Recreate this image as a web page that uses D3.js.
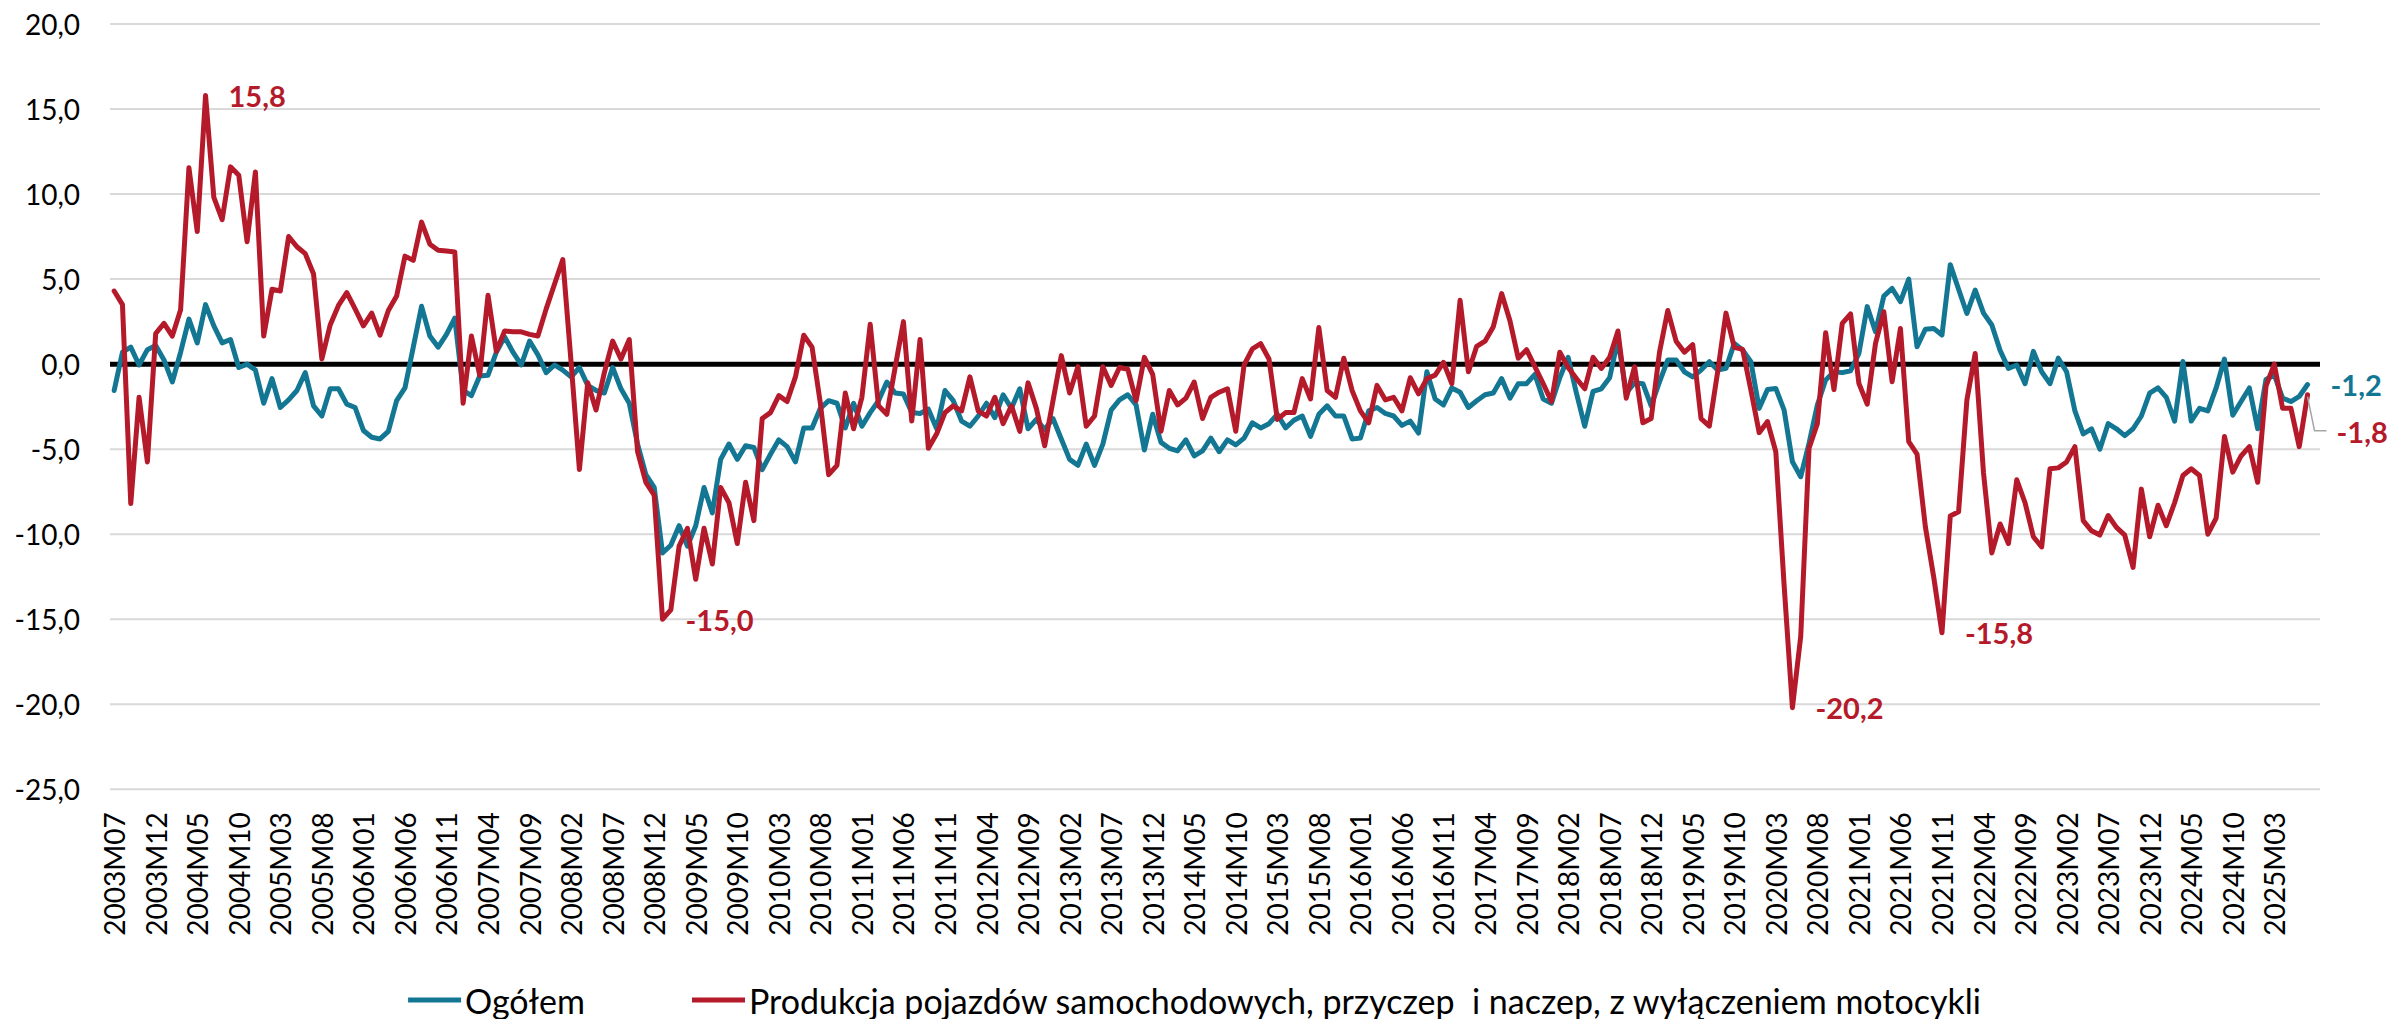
<!DOCTYPE html>
<html>
<head>
<meta charset="utf-8">
<script src="https://cdn.jsdelivr.net/npm/d3@7"></script>
<style>
  html, body { margin: 0; padding: 0; background: #ffffff; }
  svg { display: block; }
  text { font-family: Lato, "Noto Sans", "DejaVu Sans", sans-serif; }
</style>
</head>
<body>
<svg id="chart" width="2389" height="1019"></svg>
<script>
// Year-on-year change, monthly, 2003M07 – 2025M07
const firstYear = 2003;
const firstMonth = 7;

// Ogółem
const ogolem = [
  -1.55, 0.7, 1.0, -0.05, 0.85, 1.1,                                   // 2003
  0.25, -1.05, 0.7, 2.65, 1.25, 3.5, 2.25, 1.25, 1.45, -0.2, 0.0, -0.35, // 2004
  -2.3, -0.85, -2.55, -2.1, -1.55, -0.5, -2.45, -3.05, -1.45, -1.45, -2.35, -2.55, // 2005
  -3.9, -4.3, -4.4, -3.95, -2.15, -1.4, 1.0, 3.4, 1.65, 1.0, 1.75, 2.7, // 2006
  -1.55, -1.85, -0.7, -0.65, 0.7, 1.6, 0.7, -0.05, 1.35, 0.55, -0.5, -0.05, // 2007
  -0.35, -0.75, -0.2, -1.25, -1.55, -1.7, -0.2, -1.45, -2.3, -4.7, -6.5, -7.25, // 2008
  -11.1, -10.65, -9.5, -10.7, -9.5, -7.25, -8.75, -5.6, -4.7, -5.6, -4.8, -4.9, // 2009
  -6.2, -5.3, -4.45, -4.85, -5.75, -3.75, -3.75, -2.6, -2.15, -2.3, -3.75, -2.3, // 2010
  -3.65, -2.85, -2.15, -1.05, -1.7, -1.75, -2.85, -2.9, -2.65, -3.8, -1.55, -2.15, // 2011
  -3.35, -3.65, -3.05, -2.3, -3.15, -1.8, -2.6, -1.45, -3.8, -3.25, -3.85, -3.2, // 2012
  -4.4, -5.6, -5.95, -4.7, -5.95, -4.7, -2.7, -2.1, -1.8, -2.4, -5.05, -2.95, // 2013
  -4.6, -4.95, -5.1, -4.45, -5.4, -5.1, -4.35, -5.15, -4.45, -4.75, -4.35, -3.45, // 2014
  -3.75, -3.5, -2.95, -3.75, -3.3, -3.05, -4.25, -2.95, -2.45, -3.05, -3.05, -4.4, // 2015
  -4.35, -2.75, -2.55, -2.9, -3.05, -3.6, -3.35, -4.05, -0.45, -2.05, -2.4, -1.4, // 2016
  -1.65, -2.55, -2.15, -1.8, -1.7, -0.85, -2.0, -1.15, -1.15, -0.6, -2.05, -2.3, // 2017
  -0.8, 0.4, -1.7, -3.65, -1.6, -1.45, -0.8, 1.45, -1.7, -1.1, -1.15, -2.45, // 2018
  -1.05, 0.25, 0.25, -0.45, -0.75, -0.35, 0.14, -0.35, -0.25, 1.22, 0.83, 0.14, // 2019
  -2.6, -1.49, -1.43, -2.7, -5.74, -6.62, -4.66, -2.4, -0.93, -0.45, -0.5, -0.39, // 2020
  0.63, 3.38, 1.9, 4.0, 4.45, 3.67, 5.0, 1.02, 2.05, 2.1, 1.71, 5.85, // 2021
  4.4, 2.98, 4.35, 3.0, 2.3, 0.8, -0.25, -0.05, -1.15, 0.75, -0.45, -1.15, // 2022
  0.35, -0.45, -2.75, -4.1, -3.8, -5.0, -3.5, -3.8, -4.2, -3.8, -3.05, -1.7, // 2023
  -1.4, -1.95, -3.35, 0.15, -3.35, -2.6, -2.75, -1.4, 0.3, -3.0, -2.2, -1.4, // 2024
  -3.8, -0.9, -0.64, -2.0, -2.2, -1.9, -1.2                             // 2025
];

// Produkcja pojazdów samochodowych, przyczep i naczep, z wyłączeniem motocykli
const pojazdy = [
  4.3, 3.5, -8.2, -1.95, -5.75, 1.8,                                    // 2003
  2.4, 1.65, 3.2, 11.55, 7.8, 15.8, 9.8, 8.5, 11.6, 11.1, 7.2, 11.3,     // 2004
  1.65, 4.4, 4.3, 7.5, 6.9, 6.5, 5.3, 0.3, 2.3, 3.45, 4.2, 3.25,        // 2005
  2.25, 3.0, 1.7, 3.15, 4.0, 6.35, 6.1, 8.35, 7.05, 6.7, 6.65, 6.6,     // 2006
  -2.3, 1.65, -0.65, 4.05, 0.75, 1.95, 1.9, 1.9, 1.75, 1.65, 3.25, 4.7, // 2007
  6.15, 0.1, -6.2, -1.1, -2.7, -0.5, 1.35, 0.3, 1.45, -5.15, -6.95, -7.7, // 2008
  -15.0, -14.45, -10.7, -9.65, -12.65, -9.65, -11.75, -7.25, -8.15, -10.55, -6.95, -9.2, // 2009
  -3.2, -2.85, -1.85, -2.2, -0.75, 1.7, 1.0, -2.3, -6.5, -5.95, -1.7, -3.8, // 2010
  -1.95, 2.35, -2.45, -2.95, -0.2, 2.5, -3.35, 1.45, -4.95, -4.1, -2.85, -2.45, // 2011
  -2.75, -0.75, -2.75, -3.05, -1.95, -3.5, -2.45, -3.95, -1.1, -2.6, -4.8, -2.15, // 2012
  0.5, -1.7, -0.15, -3.65, -3.05, -0.15, -1.25, -0.2, -0.3, -2.15, 0.4, -0.6, // 2013
  -3.95, -1.55, -2.4, -2.0, -1.05, -3.2, -1.95, -1.65, -1.45, -3.95, -0.05, 0.9, // 2014
  1.2, 0.3, -3.25, -2.85, -2.85, -0.85, -2.05, 2.15, -1.55, -1.95, 0.35, -1.55, // 2015
  -2.75, -3.45, -1.25, -2.1, -1.95, -2.75, -0.8, -1.75, -0.85, -0.65, 0.1, -1.15, // 2016
  3.75, -0.45, 1.05, 1.35, 2.2, 4.15, 2.55, 0.35, 0.85, -0.15, -1.15, -2.2, // 2017
  0.7, -0.2, -0.85, -1.45, 0.4, -0.25, 0.4, 1.95, -2.0, -0.15, -3.45, -3.2, // 2018
  0.7, 3.15, 1.35, 0.7, 1.15, -3.2, -3.64, -0.45, 3.0, 0.99, 0.87, -1.52, // 2019
  -4.03, -3.38, -5.15, -13.0, -20.2, -16.0, -4.95, -3.5, 1.85, -1.5, 2.4, 2.95, // 2020
  -1.13, -2.35, 1.22, 3.08, -1.03, 2.1, -4.56, -5.29, -9.56, -12.5, -15.8, -8.93, // 2021
  -8.68, -2.11, 0.63, -6.4, -11.1, -9.4, -10.55, -6.8, -8.15, -10.15, -10.75, -6.15, // 2022
  -6.1, -5.75, -4.85, -9.2, -9.8, -10.05, -8.9, -9.6, -10.05, -11.95, -7.35, -10.15, // 2023
  -8.3, -9.5, -8.15, -6.55, -6.15, -6.55, -10.0, -9.05, -4.25, -6.35, -5.4, -4.85, // 2024
  -6.95, -1.3, 0.0, -2.6, -2.6, -4.85, -1.8                             // 2025
];

const tickLabels = [
  "2003M07","2003M12","2004M05","2004M10","2005M03","2005M08","2006M01","2006M06",
  "2006M11","2007M04","2007M09","2008M02","2008M07","2008M12","2009M05","2009M10",
  "2010M03","2010M08","2011M01","2011M06","2011M11","2012M04","2012M09","2013M02",
  "2013M07","2013M12","2014M05","2014M10","2015M03","2015M08","2016M01","2016M06",
  "2016M11","2017M04","2017M09","2018M02","2018M07","2018M12","2019M05","2019M10",
  "2020M03","2020M08","2021M01","2021M06","2021M11","2022M04","2022M09","2023M02",
  "2023M07","2023M12","2024M05","2024M10","2025M03"
];

const yTicks = [-25, -20, -15, -10, -5, 0, 5, 10, 15, 20];

const seriesNames = ["Ogółem", "Produkcja pojazdów samochodowych, przyczep  i naczep, z wyłączeniem motocykli"];
const seriesColors = ["#137693", "#b51a2b"];

// points carrying a value label: [series index, month]
const labelledPoints = [
  [1, "2004M06"], [1, "2009M01"], [1, "2020M05"], [1, "2021M11"], [1, "2025M07"], [0, "2025M07"]
];

// ---- layout ----
const width = 2389, height = 1019;
const margin = { left: 110, right: 69, top: 24, bottom: 229.7 };

const months = d3.range(ogolem.length).map(i => {
  const m = firstMonth - 1 + i;
  return `${firstYear + Math.floor(m / 12)}M${String(m % 12 + 1).padStart(2, "0")}`;
});
// the category axis keeps one trailing empty slot after the last month
const categories = months.concat([""]);

const pl = d3.formatLocale({ decimal: ",", thousands: " ", grouping: [3], currency: ["", " zł"], minus: "-" });
const fmt = pl.format(".1f");

const x = d3.scalePoint()
  .domain(categories)
  .range([margin.left, width - margin.right])
  .padding(0.5);

const y = d3.scaleLinear()
  .domain([-25, 20])
  .range([height - margin.bottom, margin.top]);

const svg = d3.select("#chart");

// horizontal gridlines
svg.append("g")
  .selectAll("line")
  .data(yTicks.filter(t => t !== 0))
  .join("line")
  .attr("x1", margin.left).attr("x2", width - margin.right)
  .attr("y1", d => y(d)).attr("y2", d => y(d))
  .attr("stroke", "#d9d9d9").attr("stroke-width", 2);

// y axis labels
svg.append("g")
  .selectAll("text")
  .data(yTicks)
  .join("text")
  .attr("x", 80)
  .attr("y", d => y(d))
  .attr("text-anchor", "end")
  .attr("dominant-baseline", "central")
  .attr("font-size", 28)
  .attr("fill", "#000")
  .text(d => fmt(d));

// x axis labels (rotated)
svg.append("g")
  .selectAll("text")
  .data(tickLabels)
  .join("text")
  .attr("transform", d => `translate(${x(d)},${y(-25) + 23}) rotate(-90)`)
  .attr("text-anchor", "end")
  .attr("dominant-baseline", "central")
  .attr("font-size", 28)
  .attr("fill", "#000")
  .text(d => d);

// zero line
svg.append("line")
  .attr("x1", margin.left).attr("x2", width - margin.right)
  .attr("y1", y(0)).attr("y2", y(0))
  .attr("stroke", "#000").attr("stroke-width", 5);

// series lines
const line = d3.line()
  .x((d, i) => x(months[i]))
  .y(d => y(d));

const seriesData = [ogolem, pojazdy];
svg.append("g")
  .selectAll("path")
  .data(seriesData)
  .join("path")
  .attr("d", d => line(d))
  .attr("fill", "none")
  .attr("stroke", (d, i) => seriesColors[i])
  .attr("stroke-width", 5)
  .attr("stroke-linejoin", "round")
  .attr("stroke-linecap", "round");

// value labels
const labelG = svg.append("g");
labelledPoints.forEach(([s, m]) => {
  const i = months.indexOf(m);
  const v = seriesData[s][i];
  const px = x(m), py = y(v);
  const last = i === months.length - 1;
  // the last red label is pushed below its neighbour and tied back with a leader
  const shifted = last && s === 1;
  const ly = shifted ? py + 37 : py;
  const lx = px + (shifted ? 29 : 23);
  if (shifted) {
    labelG.append("polyline")
      .attr("points", `${px},${py + 2} ${px + 7},${ly - 1} ${px + 19},${ly - 1}`)
      .attr("fill", "none")
      .attr("stroke", "#a6a6a6")
      .attr("stroke-width", 1.5);
  }
  labelG.append("text")
    .attr("x", lx)
    .attr("y", ly)
    .attr("dominant-baseline", "central")
    .attr("font-size", 29)
    .attr("font-weight", 700)
    .attr("fill", seriesColors[s])
    .text(fmt(v));
});

// legend
const legend = svg.append("g");
const legendY = 1000;
let cursor = 0;
seriesNames.forEach((name, i) => {
  const g = legend.append("g");
  g.append("line")
    .attr("x1", 0).attr("x2", 53)
    .attr("y1", 0).attr("y2", 0)
    .attr("stroke", seriesColors[i]).attr("stroke-width", 5);
  const t = g.append("text")
    .attr("x", 57)
    .attr("y", 0)
    .attr("dominant-baseline", "central")
    .attr("font-size", 34)
    .attr("fill", "#000")
    .style("white-space", "pre")
    .text(name);
  const w = 57 + t.node().getComputedTextLength();
  g.attr("transform", `translate(${cursor},0)`);
  cursor += w + 107;
});
const legendWidth = cursor - 107;
legend.attr("transform", `translate(${(width - legendWidth) / 2},${legendY})`);
</script>
</body>
</html>
